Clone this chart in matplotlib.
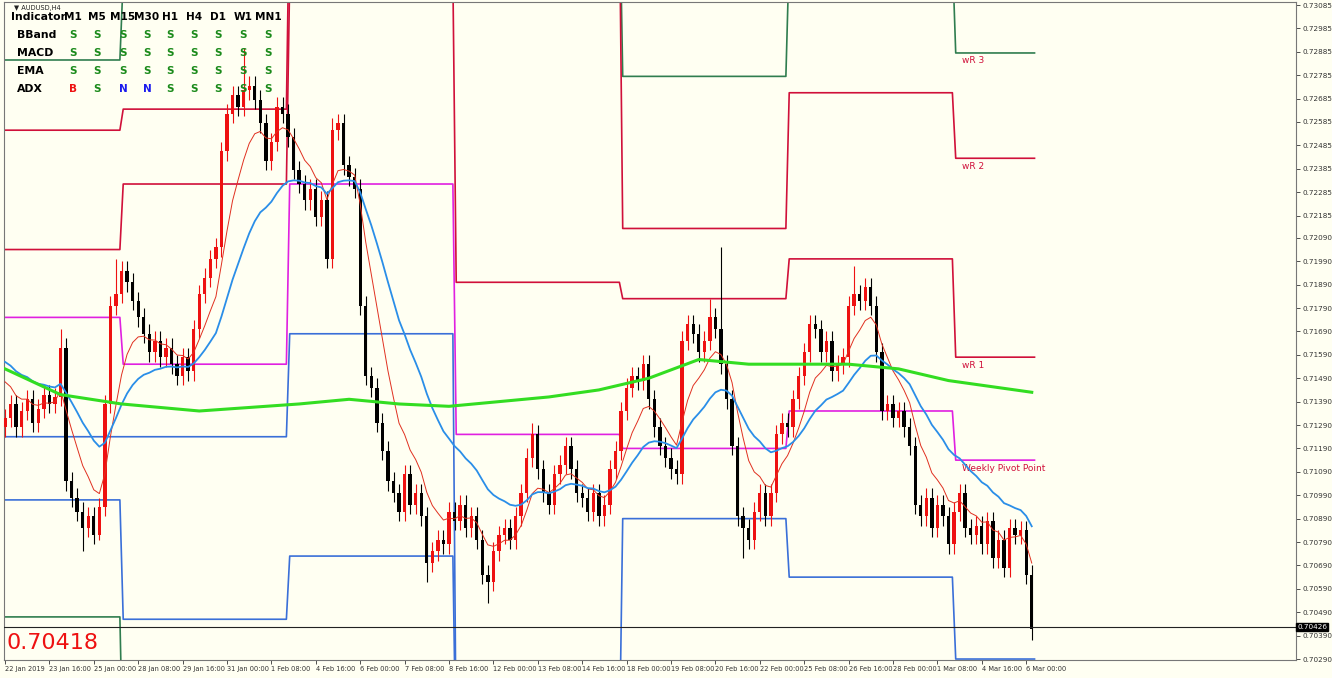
import numpy as np
import pandas as pd
import matplotlib
matplotlib.use("Agg")
import matplotlib.pyplot as plt

closes = [0.7132,0.7138,0.7128,0.7135,0.7140,0.7130,0.7136,0.7142,0.7138,0.7141,
0.7162,0.7105,0.7098,0.7092,0.7085,0.7090,0.7082,0.7094,0.7138,0.7180,
0.7185,0.7195,0.7190,0.7182,0.7175,0.7168,0.7160,0.7165,0.7158,0.7162,
0.7155,0.7150,0.7158,0.7152,0.7170,0.7185,0.7192,0.7200,0.7205,0.7246,
0.7262,0.7270,0.7265,0.7272,0.7274,0.7268,0.7258,0.7242,0.7250,0.7265,
0.7262,0.7252,0.7238,0.7232,0.7225,0.7230,0.7218,0.7225,0.7200,0.7255,
0.7258,0.7240,0.7235,0.7230,0.7180,0.7150,0.7145,0.7130,0.7118,0.7105,
0.7100,0.7092,0.7108,0.7095,0.7100,0.7090,0.7070,0.7075,0.7080,0.7078,
0.7092,0.7088,0.7095,0.7085,0.7090,0.7080,0.7065,0.7062,0.7075,0.7082,
0.7085,0.7080,0.7090,0.7100,0.7115,0.7125,0.7110,0.7100,0.7095,0.7108,
0.7112,0.7120,0.7110,0.7100,0.7098,0.7092,0.7100,0.7090,0.7095,0.7110,
0.7118,0.7135,0.7145,0.7150,0.7148,0.7155,0.7140,0.7128,0.7120,0.7115,
0.7110,0.7108,0.7165,0.7172,0.7168,0.7160,0.7165,0.7175,0.7170,0.7155,
0.7140,0.7120,0.7090,0.7085,0.7080,0.7092,0.7100,0.7090,0.7100,0.7125,
0.7130,0.7128,0.7140,0.7150,0.7160,0.7172,0.7170,0.7160,0.7165,0.7152,
0.7155,0.7158,0.7180,0.7185,0.7182,0.7188,0.7180,0.7160,0.7135,0.7138,
0.7132,0.7135,0.7128,0.7120,0.7095,0.7090,0.7098,0.7085,0.7095,0.7090,
0.7078,0.7092,0.7100,0.7085,0.7082,0.7086,0.7078,0.7088,0.7072,0.7080,
0.7068,0.7085,0.7082,0.7084,0.7065,0.70418]
first_open = 0.7128
extra_high = {10: 0.7170, 18: 0.7142, 20: 0.7200, 43: 0.7290, 59: 0.7260, 129: 0.7205,
              153: 0.7197, 155: 0.7192, 127: 0.7183, 95: 0.7130}
extra_low = {17: 0.7080, 14: 0.7075, 87: 0.7053, 133: 0.7072, 185: 0.7037, 76: 0.7062}
warmup = [0.7165, 0.7162, 0.7160, 0.7158, 0.7155, 0.7150, 0.7145, 0.7140]

green_x = [0, 10, 21, 35, 53, 62, 71, 80, 89, 98, 107, 116, 125, 134, 143, 152, 161, 170, 185]
green_y = [0.7153, 0.7142, 0.7138, 0.7135, 0.7138, 0.7140, 0.7138, 0.7137, 0.7139, 0.7141,
           0.7144, 0.7149, 0.7157, 0.7155, 0.7155, 0.7155, 0.7153, 0.7148, 0.7143]

week_start = [0, 21, 51, 81, 111, 141, 171]
week_end = 185.5
R3 = [0.7285, 0.7320, 0.7380, 0.7360, 0.7278, 0.7330, 0.7288]
R2 = [0.7255, 0.7264, 0.7360, 0.7350, 0.7213, 0.7271, 0.7243]
R1 = [0.7204, 0.7232, 0.7320, 0.7190, 0.7183, 0.7200, 0.7158]
PP = [0.7175, 0.7155, 0.7232, 0.7125, 0.7119, 0.7135, 0.7114]
S1 = [0.7124, 0.7124, 0.7168, 0.6990, 0.7089, 0.7064, 0.7029]
S2 = [0.7097, 0.7046, 0.7073, 0.6980, 0.6980, 0.6980, 0.6980]
S3 = [0.7047, 0.6980, 0.6980, 0.6970, 0.6970, 0.6970, 0.6970]

xlabels = ["22 Jan 2019","23 Jan 16:00","25 Jan 00:00","28 Jan 08:00","29 Jan 16:00","31 Jan 00:00",
"1 Feb 08:00","4 Feb 16:00","6 Feb 00:00","7 Feb 08:00","8 Feb 16:00","12 Feb 00:00","13 Feb 08:00",
"14 Feb 16:00","18 Feb 00:00","19 Feb 08:00","20 Feb 16:00","22 Feb 00:00","25 Feb 08:00",
"26 Feb 16:00","28 Feb 00:00","1 Mar 08:00","4 Mar 16:00","6 Mar 00:00"]
ytick_labels = ["0.73085","0.72985","0.72885","0.72785","0.72685","0.72585","0.72485","0.72385",
"0.72285","0.72185","0.72090","0.71990","0.71890","0.71790","0.71690","0.71590","0.71490","0.71390",
"0.71290","0.71190","0.71090","0.70990","0.70890","0.70790","0.70690","0.70590","0.70490","0.70390","0.70290"]
last_price = 0.70426
bid = "0.70418"

rows = ["BBand", "MACD", "EMA", "ADX"]
cols = ["M1","M5","M15","M30","H1","H4","D1","W1","MN1"]
signals = [list("SSSSSSSSS"), list("SSSSSSSSS"), list("SSSSSSSSS"), list("BSNNSSSSS")]

BG = "#fffff2"
fig = plt.figure(figsize=(13.32, 6.78), dpi=100, facecolor=BG)
ax = fig.add_axes([4/1332, 18/678, 1292/1332, 658/678], facecolor=BG)
n = len(closes)
x = np.arange(n)
c = np.array(closes)
o = np.concatenate([[first_open], c[:-1]])
hi = np.maximum(o, c) + 0.0004
lo = np.minimum(o, c) - 0.0004
for k, v in extra_high.items(): hi[k] = v
for k, v in extra_low.items(): lo[k] = v

def step(levels, color, lw=1.2):
    xs, ys = [], []
    for i, lv in enumerate(levels):
        s = week_start[i] + (0.3 if i else -1)
        e = week_start[i+1] - 0.3 if i + 1 < len(week_start) else week_end
        xs += [s, e]; ys += [lv, lv]
    ax.plot(xs, ys, color=color, lw=lw, zorder=2)

step(R3, "#2f7d4f"); step(S3, "#2f7d4f")
step(R2, "#d0103a"); step(R1, "#d0103a")
step(PP, "#e020e0")
step(S1, "#3a6fd8"); step(S2, "#3a6fd8")

for i in range(n):
    col = "#ee1111" if c[i] >= o[i] else "#000000"
    ax.vlines(x[i], lo[i], hi[i], color=col, lw=0.8, zorder=4)
    b0, b1 = min(o[i], c[i]), max(o[i], c[i])
    ax.bar(x[i], max(b1 - b0, 0.00004), bottom=b0, width=0.6, color=col, zorder=5, lw=0)

s = pd.Series(warmup + closes)
ema_fast = s.ewm(span=8, adjust=False).mean().values[len(warmup):]
ema_mid = s.ewm(span=21, adjust=False).mean().values[len(warmup):]
ax.plot(x, ema_fast, color="#e03020", lw=0.7, zorder=6)
ax.plot(x, ema_mid, color="#2a8ee8", lw=1.3, zorder=6)
ax.plot(green_x, green_y, color="#33dd22", lw=2.2, zorder=6)

ax.axhline(last_price, color="#222222", lw=0.8, zorder=7)

lab_x = 172.5
ax.text(lab_x, R3[-1] - 0.00015, "wR 3", color="#d0103a", fontsize=6.5, va="top")
ax.text(lab_x, R2[-1] - 0.00015, "wR 2", color="#d0103a", fontsize=6.5, va="top")
ax.text(lab_x, R1[-1] - 0.00015, "wR 1", color="#d0103a", fontsize=6.5, va="top")
ax.text(lab_x, PP[-1] - 0.00015, "Weekly Pivot Point", color="#d0103a", fontsize=6.5, va="top")

ax.set_xlim((4 - 5) / 5.55, (1296 - 5) / 5.55)
ax.set_ylim(0.73085 - 655 / 23400, 0.73085 + 3 / 23400)
yt = [float(v) for v in ytick_labels]
ax.yaxis.tick_right()
ax.set_yticks(yt)
ax.set_yticklabels(ytick_labels, fontsize=5.2)
ax.set_xticks(np.arange(len(xlabels)) * 8)
ax.set_xticklabels(xlabels, fontsize=4.8, ha="left")
ax.tick_params(axis="both", length=3, width=0.6, pad=1.5, colors="#333333")
for sp in ax.spines.values():
    sp.set_color("#777777"); sp.set_linewidth(0.8)

ax.text(1.001, last_price, "0.70426", transform=ax.get_yaxis_transform(), fontsize=5.2,
        color="white", va="center", ha="left", zorder=10,
        bbox=dict(boxstyle="square,pad=0.15", fc="black", ec="black"))

ax.text(0.002, 0.01, bid, transform=ax.transAxes, fontsize=16, color="#ee1111", va="bottom", ha="left")
ax.text(0.008, 0.996, "▼ AUDUSD,H4", transform=ax.transAxes, fontsize=4.8, va="top", color="#222222")

fig.text(11/1332, 1 - 17/678, "Indicator", fontsize=7.8, fontweight="bold", va="center", ha="left")
colx = [73, 97, 123, 147, 170, 194, 218, 243, 268]
for j, cn in enumerate(cols):
    fig.text(colx[j]/1332, 1 - 17/678, cn, fontsize=7.6, fontweight="bold", va="center", ha="center")
cmap = {"S": "#1a8a1a", "B": "#ee1111", "N": "#1a1aee"}
for r, rn in enumerate(rows):
    yy = 1 - (35 + 18 * r) / 678
    fig.text(17/1332, yy, rn, fontsize=7.8, fontweight="bold", va="center", ha="left")
    for j, sg in enumerate(signals[r]):
        fig.text(colx[j]/1332, yy, sg, fontsize=7.5, fontweight="bold", va="center", ha="center", color=cmap[sg])

fig.savefig("out.png", dpi=100, facecolor=BG)
